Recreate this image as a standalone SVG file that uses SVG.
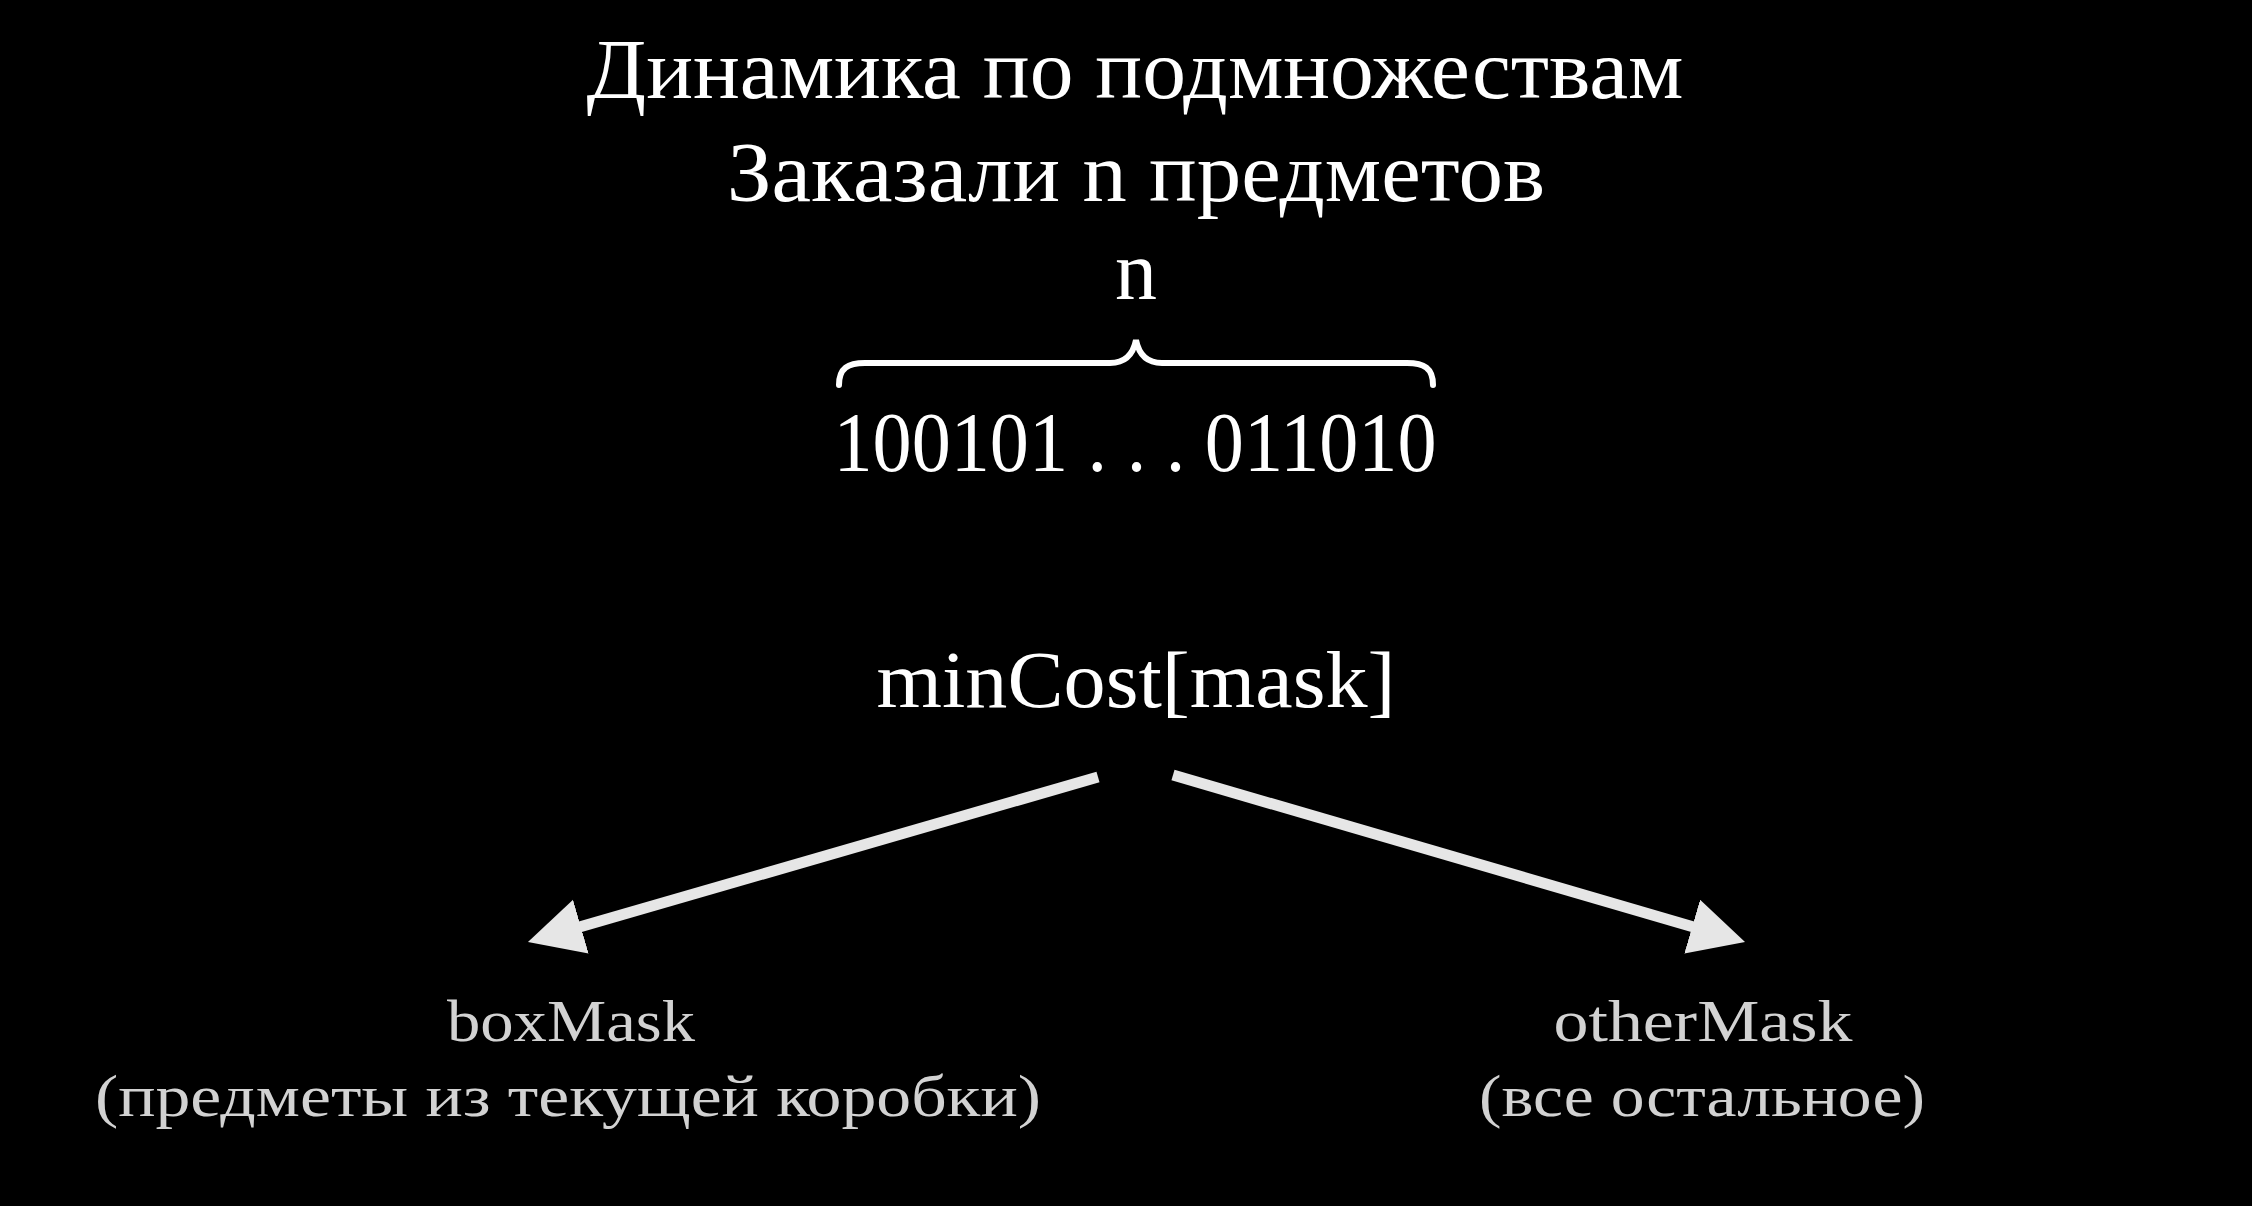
<svg xmlns="http://www.w3.org/2000/svg" width="2252" height="1206" viewBox="0 0 2252 1206">
<style>
.t{font-family:"Liberation Serif","DejaVu Serif",serif;fill:#ffffff;text-anchor:middle}
.s{font-family:"Liberation Serif","DejaVu Serif",serif;fill:#d2d2d2;text-anchor:middle}
.arrow{stroke:#e6e6e6;stroke-width:11;fill:none}
</style>
<defs>
<marker id="ah" markerUnits="userSpaceOnUse" markerWidth="60" markerHeight="60" refX="5" refY="28" orient="auto">
<path d="M0,0 L55,28 L0,56 Z" fill="#e6e6e6"/>
</marker>
</defs>
<rect width="2252" height="1206" fill="#000"/>
<g id="title">
<text class="t" x="1135" y="98" font-size="84" textLength="1097" lengthAdjust="spacingAndGlyphs">Динамика по подмножествам</text>
</g>
<g id="subtitle">
<text class="t" x="1136" y="201" font-size="84" textLength="818" lengthAdjust="spacingAndGlyphs">Заказали n предметов</text>
</g>
<g id="n-label">
<text class="t" x="1136" y="299" font-size="84">n</text>
</g>
<g id="brace">
<path d="M839,385 C839,368 848,363 865,363 L1110,363 C1125,363 1133,355 1136,340 C1139,355 1147,363 1162,363 L1407,363 C1424,363 1433,368 1433,385" fill="none" stroke="#fff" stroke-width="6" stroke-linecap="round"/>
</g>
<g id="bits">
<text class="t" x="1135" y="471" font-size="84" textLength="603" lengthAdjust="spacingAndGlyphs">100101 . . . 011010</text>
</g>
<g id="mincost">
<text class="t" x="1136" y="707" font-size="80" textLength="519" lengthAdjust="spacingAndGlyphs">minCost[mask]</text>
</g>
<g id="connectors">
<line class="arrow" x1="1098" y1="777" x2="576" y2="928" marker-end="url(#ah)"/>
<line class="arrow" x1="1173" y1="775" x2="1697" y2="928" marker-end="url(#ah)"/>
</g>
<g id="boxmask">
<text class="s" x="571" y="1041" font-size="60" textLength="248" lengthAdjust="spacingAndGlyphs">boxMask</text>
<text class="s" x="568" y="1116" font-size="60" textLength="946" lengthAdjust="spacingAndGlyphs">(предметы из текущей коробки)</text>
</g>
<g id="othermask">
<text class="s" x="1703" y="1041" font-size="60" textLength="299" lengthAdjust="spacingAndGlyphs">otherMask</text>
<text class="s" x="1702" y="1116" font-size="60" textLength="446" lengthAdjust="spacingAndGlyphs">(все остальное)</text>
</g>
</svg>
